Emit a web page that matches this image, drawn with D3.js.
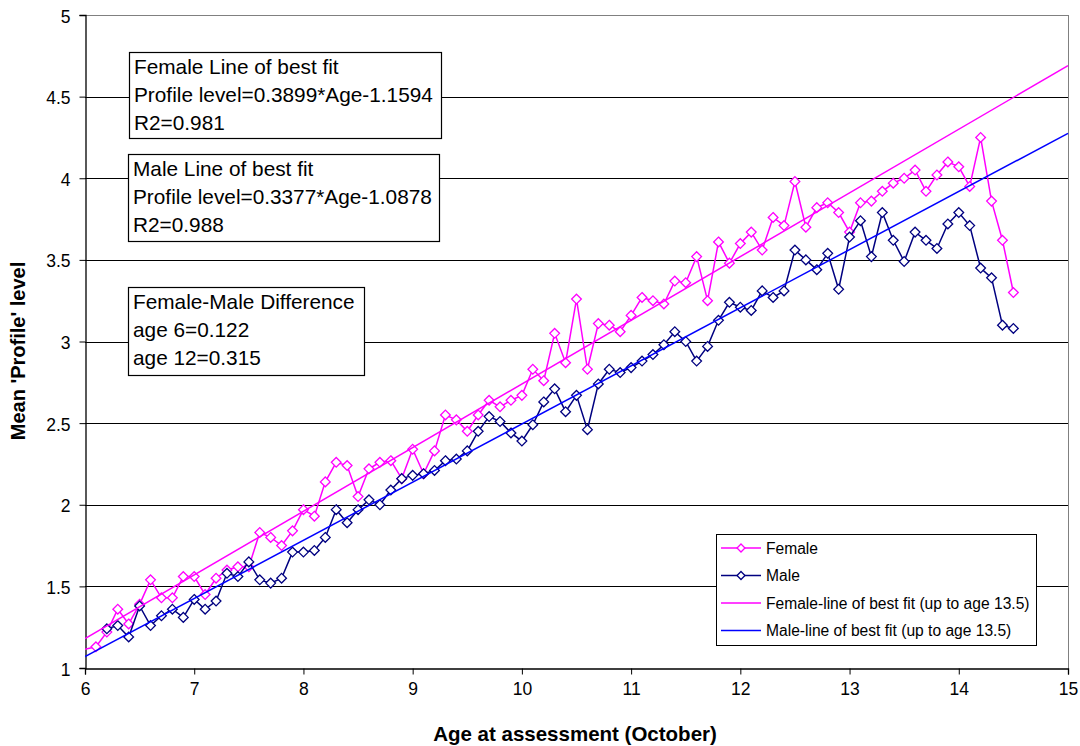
<html lang="en">
<head>
<meta charset="UTF-8">
<title>Mean Profile level by age</title>
<style>
  body { margin: 0; background: #fff; }
  svg { display: block; font-family: "Liberation Sans", Arial, sans-serif; }
</style>
</head>
<body>
<script src="https://d3js.org/d3.v7.min.js"></script>
<script>

const ages = [6.1, 6.2, 6.3, 6.4, 6.5, 6.6, 6.7, 6.8, 6.9, 7.0,
    7.1, 7.2, 7.3, 7.4, 7.5, 7.6, 7.7, 7.8, 7.9, 8.0,
    8.1, 8.2, 8.3, 8.4, 8.5, 8.6, 8.7, 8.8, 8.9, 9.0,
    9.1, 9.2, 9.3, 9.4, 9.5, 9.6, 9.7, 9.8, 9.9, 10.0,
    10.1, 10.2, 10.3, 10.4, 10.5, 10.6, 10.7, 10.8, 10.9, 11.0,
    11.1, 11.2, 11.3, 11.4, 11.5, 11.6, 11.7, 11.8, 11.9, 12.0,
    12.1, 12.2, 12.3, 12.4, 12.5, 12.6, 12.7, 12.8, 12.9, 13.0,
    13.1, 13.2, 13.3, 13.4, 13.5, 13.6, 13.7, 13.8, 13.9, 14.0,
    14.1, 14.2, 14.3, 14.4, 14.5];

const female = [1.13, 1.22, 1.36, 1.27, 1.39, 1.54, 1.43, 1.43, 1.56, 1.56,
    1.45, 1.55, 1.60, 1.62, 1.62, 1.83, 1.80, 1.75, 1.84, 1.97,
    1.93, 2.14, 2.26, 2.24, 2.05, 2.22, 2.26, 2.27, 2.16, 2.34,
    2.19, 2.33, 2.55, 2.52, 2.45, 2.55, 2.64, 2.60, 2.64, 2.67,
    2.83, 2.76, 3.05, 2.87, 3.26, 2.83, 3.11, 3.10, 3.06, 3.16,
    3.27, 3.25, 3.23, 3.37, 3.36, 3.52, 3.25, 3.61, 3.48, 3.60,
    3.67, 3.56, 3.76, 3.71, 3.98, 3.70, 3.82, 3.85, 3.79, 3.67,
    3.85, 3.86, 3.92, 3.97, 4.00, 4.05, 3.92, 4.02, 4.10, 4.07,
    3.95, 4.25, 3.86, 3.62, 3.30];

// the female line enters from a point just left of the axis
const femaleLead = [5.9, 1.10];

const male = [null, 1.24, 1.26, 1.19, 1.38, 1.26, 1.32, 1.36, 1.31, 1.42,
    1.36, 1.41, 1.58, 1.56, 1.65, 1.54, 1.52, 1.55, 1.71, 1.71,
    1.72, 1.80, 1.97, 1.89, 1.97, 2.03, 2.00, 2.09, 2.16, 2.18,
    2.19, 2.21, 2.27, 2.28, 2.33, 2.45, 2.54, 2.51, 2.44, 2.39,
    2.49, 2.63, 2.71, 2.57, 2.67, 2.46, 2.74, 2.83, 2.81, 2.84,
    2.88, 2.92, 2.98, 3.06, 3.00, 2.88, 2.97, 3.13, 3.24, 3.21,
    3.19, 3.31, 3.27, 3.31, 3.56, 3.50, 3.44, 3.54, 3.32, 3.64,
    3.74, 3.52, 3.79, 3.62, 3.49, 3.67, 3.62, 3.57, 3.72, 3.79,
    3.71, 3.45, 3.39, 3.10, 3.08];

// end points of the fitted lines as drawn
const femaleFit = [[6, 1.18], [15, 4.69]];
const maleFit = [[6, 1.07], [15, 4.275]];

const xTicks = [6, 7, 8, 9, 10, 11, 12, 13, 14, 15];
const yTicks = [1, 1.5, 2, 2.5, 3, 3.5, 4, 4.5, 5];

const notes = [
    ["Female Line of best fit", "Profile level=0.3899*Age-1.1594", "R2=0.981"],
    ["Male Line of best fit", "Profile level=0.3377*Age-1.0878", "R2=0.988"],
    ["Female-Male Difference", "age 6=0.122", "age 12=0.315"]
];
const legendLabels = ["Female", "Male", "Female-line of best fit (up to age 13.5)", "Male-line of best fit (up to age 13.5)"];

const w = 1080, h = 746;
const plotLeft = 85, plotRight = 1068, plotTop = 15, plotBottom = 668;
const pink = "#ff00ff", navy = "#000080", blue = "#0000ff";

const svg = d3.select("body").append("svg")
    .attr("width", w)
    .attr("height", h);

svg.append("rect").attr("width", w).attr("height", h).attr("fill", "#fff");

const x = d3.scaleLinear().domain([6, 15]).range([plotLeft, plotRight]);
const y = d3.scaleLinear().domain([1, 5]).range([plotBottom, plotTop]);

svg.append("clipPath").attr("id", "plot")
    .append("rect")
    .attr("x", plotLeft).attr("y", plotTop - 6)
    .attr("width", plotRight - plotLeft + 6).attr("height", plotBottom - plotTop + 6);

// gridlines
svg.append("g")
    .selectAll("line")
    .data(yTicks.slice(1))
    .enter()
    .append("line")
    .attr("x1", plotLeft).attr("x2", plotRight)
    .attr("y1", d => Math.round(y(d)) + 0.5)
    .attr("y2", d => Math.round(y(d)) + 0.5)
    .attr("stroke", d => d == 5 ? "#808080" : "#000")
    .attr("stroke-width", 1);

svg.append("line")
    .attr("x1", plotRight + 0.5).attr("x2", plotRight + 0.5)
    .attr("y1", plotTop).attr("y2", plotBottom)
    .attr("stroke", "#808080");

// axes
const xAxis = d3.axisBottom(x).tickValues(xTicks).tickSize(6).tickPadding(8).tickFormat(d3.format("d"));
const yAxis = d3.axisLeft(y).tickValues(yTicks).tickSize(6).tickPadding(9).tickFormat(d => d);

const gx = svg.append("g")
    .attr("transform", "translate(0," + (Math.round(y(1)) + 0.5) + ")")
    .call(xAxis);
const gy = svg.append("g")
    .attr("transform", "translate(" + (plotLeft + 0.5) + ",0)")
    .call(yAxis);

[gx, gy].forEach(g => {
    g.select(".domain").attr("stroke", "#000").attr("stroke-width", 1.3);
    g.selectAll(".tick line").attr("stroke", "#000");
    g.selectAll("text").attr("font-size", 17.5).attr("fill", "#000")
        .attr("font-family", "'Liberation Sans', Arial, sans-serif");
});
gy.selectAll(".tick text").attr("dy", "0.4em");

// axis titles
svg.append("text")
    .attr("x", 575).attr("y", 741)
    .attr("text-anchor", "middle")
    .attr("font-size", 20.5).attr("font-weight", "bold")
    .text("Age at assessment (October)");

svg.append("text")
    .attr("transform", "translate(25," + 351 + ") rotate(-90)")
    .attr("text-anchor", "middle")
    .attr("font-size", 20).attr("font-weight", "bold")
    .text("Mean 'Profile' level");

// data series
const plot = svg.append("g").attr("clip-path", "url(#plot)");

const line = d3.line()
    .defined(d => d[1] != null)
    .x(d => x(d[0]))
    .y(d => y(d[1]));

const femalePts = [femaleLead].concat(ages.map((a, i) => [a, female[i]]));
const malePts = ages.map((a, i) => [a, male[i]]);

const diamond = d3.symbol().type(d3.symbolDiamond2).size(60);

function drawSeries(pts, colour) {
    plot.append("path")
        .datum(pts)
        .attr("fill", "none")
        .attr("stroke", colour)
        .attr("stroke-width", 1.5)
        .attr("d", line);
    plot.append("g")
        .selectAll("path")
        .data(pts.filter(d => d[1] != null))
        .enter()
        .append("path")
        .attr("d", diamond)
        .attr("transform", d => "translate(" + x(d[0]) + "," + y(d[1]) + ")")
        .attr("fill", "#fff")
        .attr("stroke", colour)
        .attr("stroke-width", 1.3);
}

drawSeries(femalePts, pink);
drawSeries(malePts, navy);

[[femaleFit, pink], [maleFit, blue]].forEach(([pts, colour]) => {
    plot.append("path")
        .datum(pts)
        .attr("fill", "none")
        .attr("stroke", colour)
        .attr("stroke-width", 1.5)
        .attr("d", line);
});

// text boxes
const boxes = [
    { x: 129, y: 52, w: 312, h: 86 },
    { x: 128, y: 154, w: 311, h: 87 },
    { x: 128, y: 287, w: 236, h: 88 }
];

boxes.forEach((b, i) => {
    const g = svg.append("g");
    g.append("rect")
        .attr("x", b.x + 0.5).attr("y", b.y + 0.5)
        .attr("width", b.w).attr("height", b.h)
        .attr("fill", "#fff").attr("stroke", "#000").attr("stroke-width", 1.2);
    g.selectAll("text")
        .data(notes[i])
        .enter()
        .append("text")
        .attr("x", b.x + 5)
        .attr("y", (d, j) => b.y + 22 + j * 28)
        .attr("font-size", 20.8)
        .text(d => d);
});

// legend
const lg = svg.append("g").attr("transform", "translate(716,534)");
lg.append("rect")
    .attr("x", 0.5).attr("y", 0.5)
    .attr("width", 320).attr("height", 111)
    .attr("fill", "#fff").attr("stroke", "#000");

const legendStyles = [[pink, true], [navy, true], [pink, false], [blue, false]];

legendLabels.forEach((label, i) => {
    const cy = 14 + i * 27.5;
    lg.append("line")
        .attr("x1", 5).attr("x2", 45)
        .attr("y1", cy).attr("y2", cy)
        .attr("stroke", legendStyles[i][0]).attr("stroke-width", 1.5);
    if (legendStyles[i][1]) {
        lg.append("path")
            .attr("d", d3.symbol().type(d3.symbolDiamond2).size(40))
            .attr("transform", "translate(25," + cy + ")")
            .attr("fill", "#fff")
            .attr("stroke", legendStyles[i][0])
            .attr("stroke-width", 1.3);
    }
    lg.append("text")
        .attr("x", 50).attr("y", cy + 5.5)
        .attr("font-size", 15.6)
        .text(label);
});

</script>
</body>
</html>
